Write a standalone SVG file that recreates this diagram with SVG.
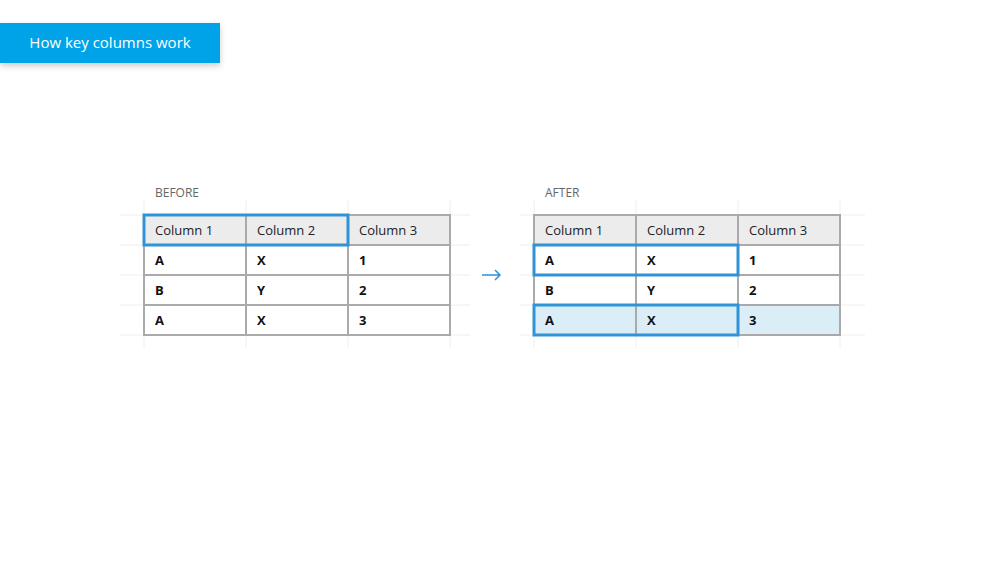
<svg xmlns="http://www.w3.org/2000/svg" width="984" height="567" viewBox="0 0 984 567">
<style>
text{font-family:"Open Sans","Noto Sans",sans-serif}
.lbl{font-size:12px;fill:#666}
.h{font-size:13px;fill:#222}
.c{font-size:13px;font-weight:bold;fill:#111}
.grid{stroke:#eee;stroke-width:1}
.cell{stroke:#aaa;stroke-width:2;fill:none}
.key{stroke:#2f93d6;stroke-width:3;fill:none}
</style>
<defs><filter id="sh" x="-10%" y="-20%" width="130%" height="160%"><feDropShadow dx="0" dy="3" stdDeviation="3" flood-color="#000" flood-opacity="0.2"/></filter></defs>
<rect width="984" height="567" fill="#fff"/>
<g id="title"><rect x="0" y="23" width="220" height="40" fill="#00a2e8" filter="url(#sh)"/><text x="110" y="48" text-anchor="middle" font-size="15" fill="#fff">How key columns work</text></g>
<g id="before">
<text class="lbl" x="155" y="197">BEFORE</text>
<g class="grid"><path d="M120 215H470M120 245H470M120 275H470M120 305H470M120 335H470M144 200V348M246 200V348M348 200V348M450 200V348"/></g>
<rect x="144" y="215" width="306" height="30" fill="#ececec"/>
<path class="cell" d="M144 215H450V335H144ZM144 245H450M144 275H450M144 305H450M246 215V335M348 215V335"/>
<rect class="key" x="144" y="215" width="204" height="30"/>
<text class="h" x="155" y="235">Column 1</text><text class="h" x="257" y="235">Column 2</text><text class="h" x="359" y="235">Column 3</text>
<text class="c" x="155" y="265">A</text><text class="c" x="257" y="265">X</text><text class="c" x="359" y="265">1</text>
<text class="c" x="155" y="295">B</text><text class="c" x="257" y="295">Y</text><text class="c" x="359" y="295">2</text>
<text class="c" x="155" y="325">A</text><text class="c" x="257" y="325">X</text><text class="c" x="359" y="325">3</text>
</g>
<g id="connectors"><path d="M482 275H500M495 270L500 275L495 280" stroke="#2f93d6" stroke-width="1.5" fill="none"/></g>
<g id="after">
<text class="lbl" x="545" y="197">AFTER</text>
<g class="grid"><path d="M520 215H865M520 245H865M520 275H865M520 305H865M520 335H865M534 200V348M636 200V348M738 200V348M840 200V348"/></g>
<rect x="534" y="215" width="306" height="30" fill="#ececec"/>
<rect x="534" y="305" width="306" height="30" fill="#dbeef7"/>
<path class="cell" d="M534 215H840V335H534ZM534 245H840M534 275H840M534 305H840M636 215V335M738 215V335"/>
<rect class="key" x="534" y="245" width="204" height="30"/>
<rect class="key" x="534" y="305" width="204" height="30"/>
<text class="h" x="545" y="235">Column 1</text><text class="h" x="647" y="235">Column 2</text><text class="h" x="749" y="235">Column 3</text>
<text class="c" x="545" y="265">A</text><text class="c" x="647" y="265">X</text><text class="c" x="749" y="265">1</text>
<text class="c" x="545" y="295">B</text><text class="c" x="647" y="295">Y</text><text class="c" x="749" y="295">2</text>
<text class="c" x="545" y="325">A</text><text class="c" x="647" y="325">X</text><text class="c" x="749" y="325">3</text>
</g>
</svg>
